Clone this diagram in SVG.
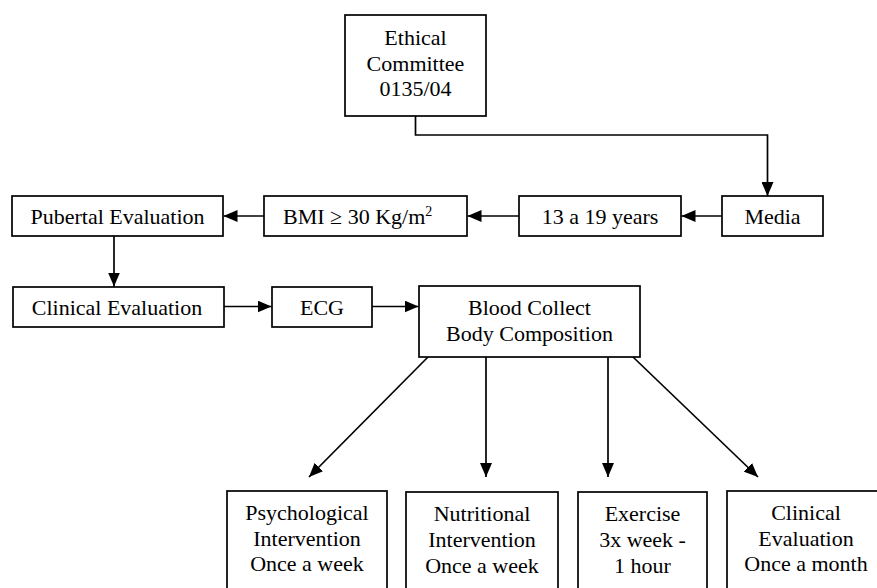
<svg xmlns="http://www.w3.org/2000/svg" width="877" height="588" viewBox="0 0 877 588">
<defs>
<marker id="arr" markerUnits="userSpaceOnUse" markerWidth="14" markerHeight="12" refX="14" refY="6" orient="auto">
<path d="M0,0 L14,6 L0,12 z" fill="#000"/>
</marker>
<style>
rect{fill:#fff;stroke:#000;stroke-width:1.7}
text{font-family:"Liberation Serif","Times New Roman",serif;font-size:22px;fill:#000;text-anchor:middle}
.c{fill:none;stroke:#000;stroke-width:1.7;marker-end:url(#arr)}
</style>
</defs>
<rect x="0" y="0" width="877" height="588" style="fill:#fff;stroke:none"/>
<g id="connectors">
<path class="c" d="M415.5,116 V135 H767.5 V196"/>
<path class="c" d="M722,216 H681.5"/>
<path class="c" d="M519,216 H467.5"/>
<path class="c" d="M264,216 H223.5"/>
<path class="c" d="M114,236 V286.5"/>
<path class="c" d="M224,306.5 H271.5"/>
<path class="c" d="M372,306.5 H418.5"/>
<path class="c" d="M428,357 L309,477"/>
<path class="c" d="M486,357 V477"/>
<path class="c" d="M608,357 V477"/>
<path class="c" d="M633,357 L758,477"/>
</g>
<g id="ethical">
<rect x="345" y="15" width="141" height="101"/>
<text x="415.5" y="45">Ethical</text>
<text x="415.5" y="71">Committee</text>
<text x="415.5" y="96">0135/04</text>
</g>
<g id="media">
<rect x="722" y="196" width="101" height="40"/>
<text x="772.5" y="224">Media</text>
</g>
<g id="age">
<rect x="519" y="196" width="162" height="40"/>
<text x="600" y="224">13 a 19 years</text>
</g>
<g id="bmi">
<rect x="264" y="196" width="203" height="40"/>
<text x="283" y="224" style="text-anchor:start">BMI ≥ 30 Kg/m<tspan dy="-8" style="font-size:14px">2</tspan></text>
</g>
<g id="pubertal">
<rect x="12" y="196" width="211" height="40"/>
<text x="117.5" y="224">Pubertal Evaluation</text>
</g>
<g id="clinical">
<rect x="13" y="287" width="211" height="40"/>
<text x="117" y="315">Clinical Evaluation</text>
</g>
<g id="ecg">
<rect x="272" y="287" width="100" height="40"/>
<text x="322" y="315">ECG</text>
</g>
<g id="blood">
<rect x="419" y="286" width="221" height="71"/>
<text x="529.5" y="315">Blood Collect</text>
<text x="529.5" y="341">Body Composition</text>
</g>
<g id="psych">
<rect x="227" y="491" width="160" height="110"/>
<text x="307" y="520">Psychological</text>
<text x="307" y="546">Intervention</text>
<text x="307" y="571">Once a week</text>
</g>
<g id="nutri">
<rect x="406" y="492" width="152" height="110"/>
<text x="482" y="521">Nutritional</text>
<text x="482" y="547">Intervention</text>
<text x="482" y="573">Once a week</text>
</g>
<g id="exercise">
<rect x="578" y="492" width="129" height="110"/>
<text x="642.5" y="521">Exercise</text>
<text x="642.5" y="547">3x week -</text>
<text x="642.5" y="573">1 hour</text>
</g>
<g id="clinmonth">
<rect x="727" y="491" width="160" height="110"/>
<text x="806" y="520">Clinical</text>
<text x="806" y="546">Evaluation</text>
<text x="806" y="571">Once a month</text>
</g>
</svg>
